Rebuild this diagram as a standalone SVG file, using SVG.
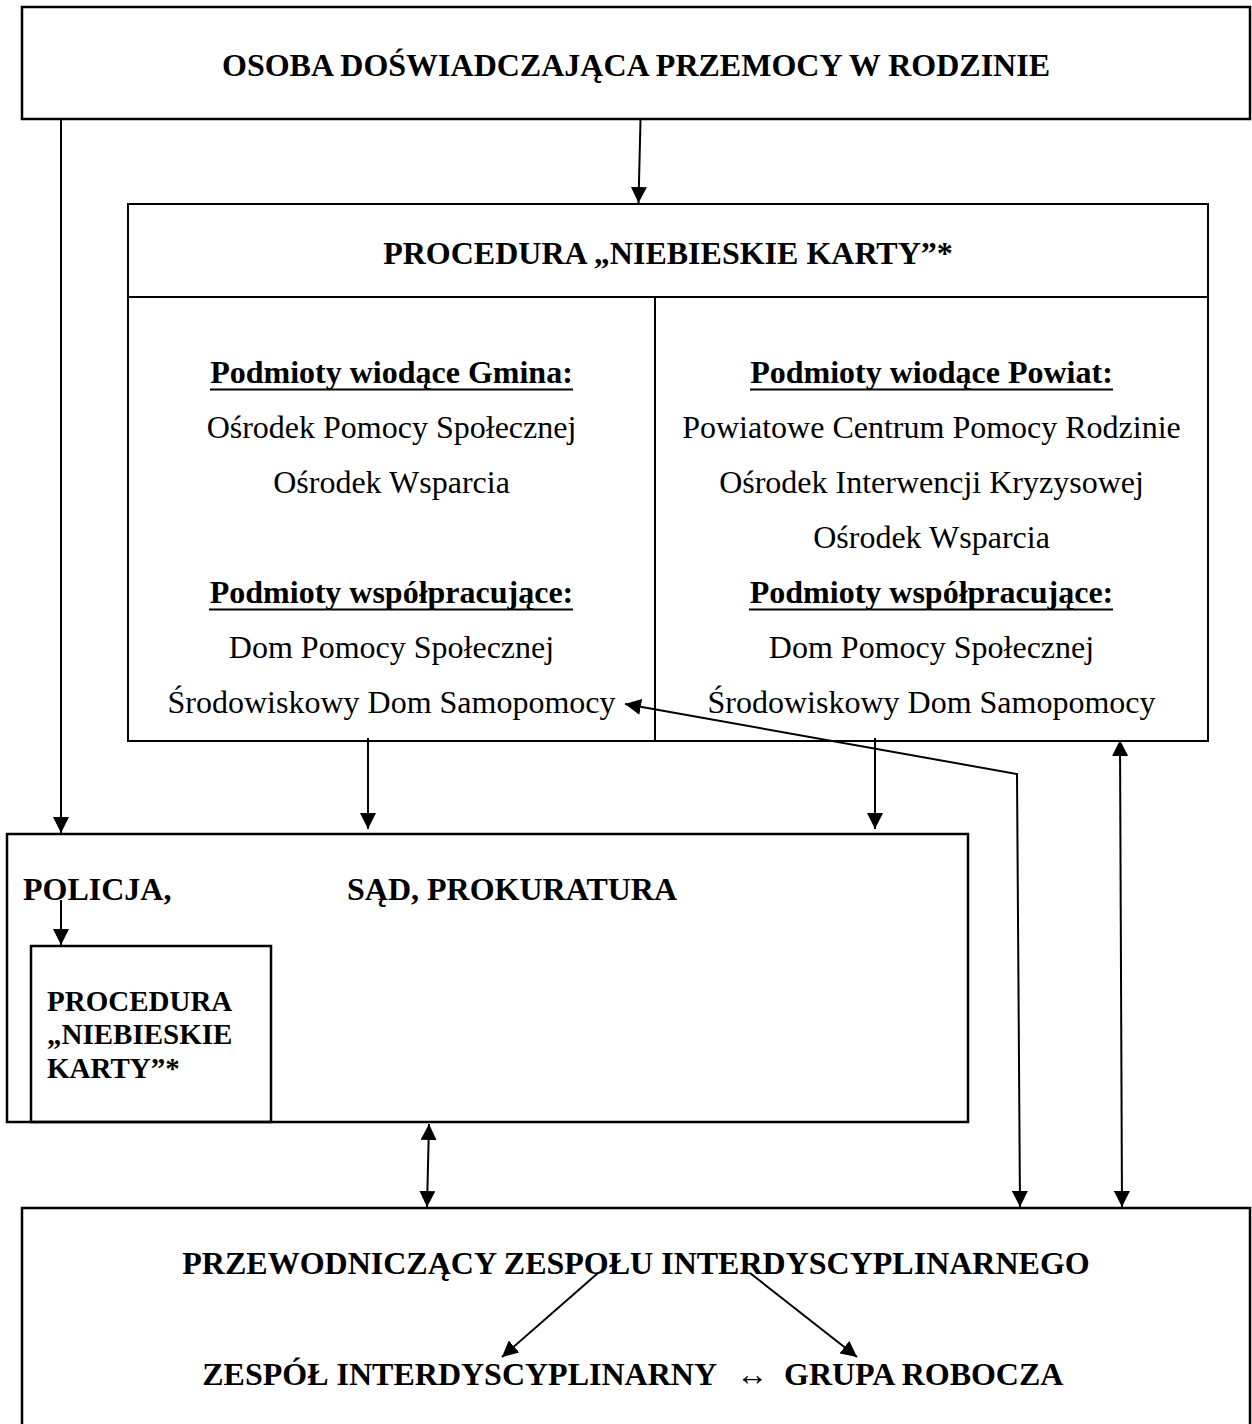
<svg xmlns="http://www.w3.org/2000/svg" width="1252" height="1424" viewBox="0 0 1252 1424">
<style>
.box{fill:none;stroke:#000;stroke-width:2.5}
.thin{fill:none;stroke:#000;stroke-width:2}
.t{font-family:"Liberation Serif","Times New Roman",serif;font-size:32px;fill:#000}
.b{font-weight:bold}
.c{text-anchor:middle}
.ul{font-family:"Liberation Serif","Times New Roman",serif;font-size:32px;font-weight:bold;text-anchor:middle;fill:#000}
.con{fill:none;stroke:#000;stroke-width:2}
.small{font-size:29px}
</style>
<defs>
<marker id="ah" viewBox="0 0 16 16" refX="16" refY="8" markerWidth="16" markerHeight="16" markerUnits="userSpaceOnUse" orient="auto-start-reverse">
<path d="M0,0 L16,8 L0,16 z" fill="#000"/>
</marker>
</defs>
<rect width="1252" height="1424" fill="#fff"/>

<g id="n-osoba">
<rect class="box" x="22" y="7" width="1228" height="112"/>
<text class="t b c" x="636" y="76">OSOBA DOŚWIADCZAJĄCA PRZEMOCY W RODZINIE</text>
</g>

<g id="n-procedura">
<rect class="thin" x="128" y="204" width="1080" height="537"/>
<line class="thin" x1="128" y1="297" x2="1208" y2="297"/>
<line class="thin" x1="655" y1="297" x2="655" y2="741"/>
<text class="t b c" x="668" y="264">PROCEDURA „NIEBIESKIE KARTY”*</text>
<g id="n-gmina">
<text class="ul" x="391.5" y="383">Podmioty wiodące Gmina:</text>
<line class="con" x1="210" y1="389.5" x2="573" y2="389.5" stroke-width="2.5"/>
<text class="t c" x="391.5" y="438">Ośrodek Pomocy Społecznej</text>
<text class="t c" x="391.5" y="493">Ośrodek Wsparcia</text>
<text class="ul" x="391.5" y="603">Podmioty współpracujące:</text>
<line class="con" x1="209" y1="609.5" x2="573" y2="609.5" stroke-width="2.5"/>
<text class="t c" x="391.5" y="658">Dom Pomocy Społecznej</text>
<text class="t c" x="391.5" y="713">Środowiskowy Dom Samopomocy</text>
</g>
<g id="n-powiat">
<text class="ul" x="931.5" y="383">Podmioty wiodące Powiat:</text>
<line class="con" x1="750" y1="389.5" x2="1113" y2="389.5" stroke-width="2.5"/>
<text class="t c" x="931.5" y="438">Powiatowe Centrum Pomocy Rodzinie</text>
<text class="t c" x="931.5" y="493">Ośrodek Interwencji Kryzysowej</text>
<text class="t c" x="931.5" y="548">Ośrodek Wsparcia</text>
<text class="ul" x="931.5" y="603">Podmioty współpracujące:</text>
<line class="con" x1="749" y1="609.5" x2="1113" y2="609.5" stroke-width="2.5"/>
<text class="t c" x="931.5" y="658">Dom Pomocy Społecznej</text>
<text class="t c" x="931.5" y="713">Środowiskowy Dom Samopomocy</text>
</g>
</g>

<g id="n-policja-sad">
<rect class="box" x="7" y="834" width="961" height="288"/>
<text class="t b" x="23" y="900">POLICJA,</text>
<text class="t b" x="347" y="900">SĄD, PROKURATURA</text>
</g>

<g id="n-procedura-policja">
<rect class="box" x="31" y="946" width="240" height="176"/>
<text class="t b small" x="47" y="1011">PROCEDURA</text>
<text class="t b small" x="47" y="1044">„NIEBIESKIE</text>
<text class="t b small" x="47" y="1078">KARTY”*</text>
</g>

<g id="n-przewodniczacy">
<rect class="box" x="22" y="1208" width="1228" height="230"/>
<text class="t b c" x="636" y="1274">PRZEWODNICZĄCY ZESPOŁU INTERDYSCYPLINARNEGO</text>
<text class="t b" x="717" y="1385" text-anchor="end">ZESPÓŁ INTERDYSCYPLINARNY</text>
<text class="t c" x="752" y="1385">↔</text>
<text class="t b" x="784" y="1385">GRUPA ROBOCZA</text>
</g>

<g id="connectors">
<line class="con" x1="640.5" y1="120" x2="638.5" y2="203" marker-end="url(#ah)"/>
<line class="con" x1="61" y1="120" x2="61" y2="833" marker-end="url(#ah)"/>
<line class="con" x1="368" y1="738" x2="368" y2="829" marker-end="url(#ah)"/>
<line class="con" x1="875" y1="738" x2="875" y2="829" marker-end="url(#ah)"/>
<line class="con" x1="61" y1="900" x2="61" y2="945" marker-end="url(#ah)"/>
<polyline class="con" points="625,704 1017,774 1020,1207" marker-start="url(#ah)" marker-end="url(#ah)"/>
<line class="con" x1="1120" y1="740" x2="1122" y2="1207" marker-start="url(#ah)" marker-end="url(#ah)"/>
<line class="con" x1="429" y1="1124" x2="427" y2="1207" marker-start="url(#ah)" marker-end="url(#ah)"/>
<line class="con" x1="598" y1="1273" x2="502" y2="1357" marker-end="url(#ah)"/>
<line class="con" x1="750" y1="1273" x2="857" y2="1357" marker-end="url(#ah)"/>
</g>
</svg>
